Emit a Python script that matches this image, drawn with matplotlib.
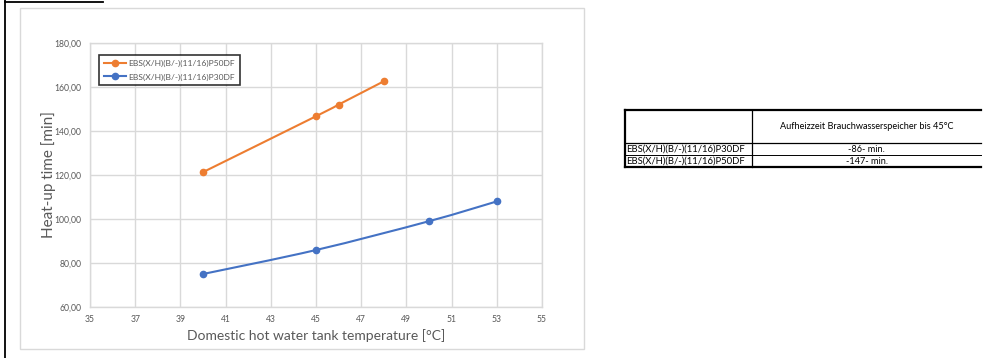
import matplotlib
matplotlib.use("Agg")
import matplotlib.pyplot as plt
from matplotlib.path import Path
from matplotlib.patches import PathPatch, Rectangle
from matplotlib.lines import Line2D
import numpy as np

plt.rcParams['font.family'] = ['Lato', 'DejaVu Sans']

# data
temp_p50 = [40, 45, 46, 48]
time_p50 = [121.3, 146.7, 152.0, 162.6]
temp_p30 = [40, 45, 50, 53]
time_p30 = [75.0, 85.9, 99.0, 108.0]
label_p50 = "EBS(X/H)(B/-)(11/16)P50DF"
label_p30 = "EBS(X/H)(B/-)(11/16)P30DF"

x_ticks = list(range(35, 56, 2))
y_ticks = [60, 80, 100, 120, 140, 160, 180]

table_header = "Aufheizzeit Brauchwasserspeicher bis 45°C"
table_rows = ["EBS(X/H)(B/-)(11/16)P30DF", "EBS(X/H)(B/-)(11/16)P50DF"]
table_vals = ["-86- min.", "-147- min."]

orange = "#ED7D31"
blue = "#4472C4"
grid = "#D9D9D9"
txt = "#595959"

W, H = 983, 358
fig = plt.figure(figsize=(W / 100, H / 100), dpi=100)

# overlay in pixel coords for frames and the table
ov = fig.add_axes([0, 0, 1, 1])
ov.set_xlim(0, W)
ov.set_ylim(H, 0)
ov.axis("off")

ov.plot([5, 5], [0, H], color="black", lw=1.3)
ov.plot([5, 103], [2, 2], color="black", lw=1.3)
ov.add_patch(Rectangle((20, 8), 564, 341, fill=False, ec=grid, lw=1))

ax = fig.add_axes([90 / W, 1 - 307 / H, (542 - 90) / W, (307 - 43) / H])
ax.set_xlim(35, 55)
ax.set_ylim(60, 180)
ax.set_xticks(x_ticks)
ax.set_yticks(y_ticks)
ax.set_yticklabels([f"{v:.2f}".replace(".", ",") for v in y_ticks])
ax.tick_params(length=0, labelsize=6.2, labelcolor=txt, pad=6)
ax.grid(True, color=grid, lw=1)
for s in ax.spines.values():
    s.set_color(grid)
    s.set_linewidth(1)
ax.set_axisbelow(True)


def smooth_path(xs, ys):
    # Excel-like smoothed line: cubic bezier segments through the points
    pts = np.column_stack([xs, ys]).astype(float)
    verts = [pts[0]]
    codes = [Path.MOVETO]
    n = len(pts)
    for i in range(n - 1):
        p0 = pts[max(i - 1, 0)]
        p1 = pts[i]
        p2 = pts[i + 1]
        p3 = pts[min(i + 2, n - 1)]
        c1 = p1 + (p2 - p0) / 6
        c2 = p2 - (p3 - p1) / 6
        verts += [c1, c2, p2]
        codes += [Path.CURVE4] * 3
    return Path(verts, codes)


for xs, ys, c in [(temp_p50, time_p50, orange), (temp_p30, time_p30, blue)]:
    ax.add_patch(PathPatch(smooth_path(xs, ys), fc="none", ec=c, lw=1.5))
    ax.plot(xs, ys, "o", color=c, ms=4.5, ls="none")

ax.set_ylabel("Heat-up time [min]", fontsize=11, color=txt)
ax.yaxis.set_label_coords((56 - 90) / 452, 0.5)
ax.set_xlabel("Domestic hot water tank temperature [°C]", fontsize=10, color=txt)
ax.xaxis.set_label_coords(0.5, -(329 - 307) / 264)

handles = [Line2D([], [], color=orange, lw=1.5, marker="o", ms=4.5),
           Line2D([], [], color=blue, lw=1.5, marker="o", ms=4.5)]
leg = ax.legend(handles, [label_p50, label_p30], loc="upper left",
                bbox_to_anchor=(5 / 452, 1 - 8 / 264), fontsize=6.1,
                frameon=True, fancybox=False, handlelength=2.6,
                labelspacing=0.75, borderpad=0.55, handletextpad=0.3)
leg.get_frame().set_edgecolor("black")
leg.get_frame().set_linewidth(1.2)
for t in leg.get_texts():
    t.set_color(txt)

# table
tx0, tx1, tx2 = 625, 752, 981
ty = [110, 143, 155, 167]
ov.plot([tx0, tx2], [ty[0], ty[0]], color="black", lw=1.6)
ov.plot([tx0, tx2], [ty[1], ty[1]], color="black", lw=0.9)
ov.plot([tx0, tx2], [ty[2], ty[2]], color="black", lw=0.7)
ov.plot([tx0, tx2], [ty[3], ty[3]], color="black", lw=1.6)
ov.plot([tx0, tx0], [ty[0], ty[3]], color="black", lw=1.6)
ov.plot([tx1, tx1], [ty[0], ty[3]], color="black", lw=0.9)
ov.text((tx1 + tx2) / 2, 126.5, table_header, fontsize=6.6, ha="center", va="center")
for i in range(2):
    yc = (ty[i + 1] + ty[i + 2]) / 2
    ov.text(tx0 + 1, yc, table_rows[i], fontsize=6.8, ha="left", va="center")
    ov.text((tx1 + tx2) / 2, yc, table_vals[i], fontsize=6.6, ha="center", va="center")

fig.savefig("out.png", dpi=100)
